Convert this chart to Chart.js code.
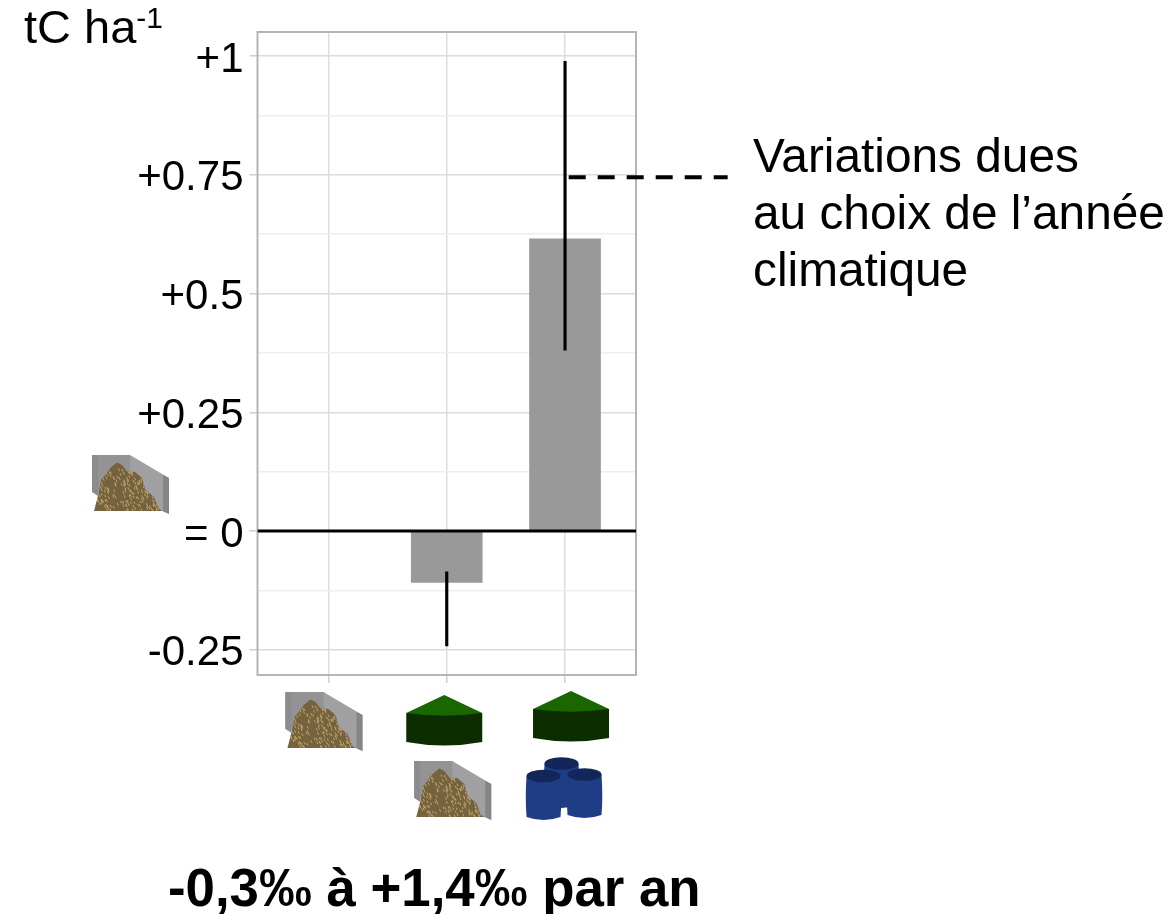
<!DOCTYPE html>
<html lang="fr">
<head>
<meta charset="utf-8">
<title>Variations tC ha-1</title>
<script src="https://cdn.jsdelivr.net/npm/chart.js@4"></script>
<style>
  html, body { margin: 0; padding: 0; background: #fff; }
  #wrap { position: relative; width: 1175px; height: 914px; overflow: hidden; font-family: "Liberation Sans", Arial, sans-serif; color: #000; }
  #chart { position: absolute; left: 0; top: 0; }
  .txt { position: absolute; white-space: nowrap; line-height: 1; }
  #unit { left: 24px; top: 3px; font-size: 47px; }
  #unit sup { font-size: 30px; line-height: 0; position: relative; top: -15.5px; vertical-align: baseline; }
  #note { left: 753px; top: 127px; font-size: 47.8px; line-height: 57px; white-space: pre; }
  #foot { left: 168px; top: 862px; font-size: 52.8px; font-weight: bold; }
</style>
</head>
<body>
<div id="wrap">
  <canvas id="chart" width="1175" height="914"></canvas>
  <div class="txt" id="unit">tC ha<sup>-1</sup></div>
  <div class="txt" id="note">Variations dues
au choix de l’année
climatique</div>
  <div class="txt" id="foot">-0,3‰ à +1,4‰ par an</div>
</div>
<script>
const positions = [1, 2, 3];
const barValues = [0, -0.108, 0.615];
const rangeLow = [null, -0.242, 0.381];
const rangeHigh = [null, -0.086, 0.989];
const yTicks = [-0.25, -0.125, 0, 0.125, 0.25, 0.375, 0.5, 0.625, 0.75, 0.875, 1];
const yLabels = ['-0.25', '', '= 0', '', '+0.25', '', '+0.5', '', '+0.75', '', '+1'];
const zeroLineX = [0.4, 3.6];
const zeroLineY = [0, 0];
const leaderX = [3.031, 4.375];
const leaderY = [0.7446, 0.7446];

function pairs(xs, ys) {
    return xs.map(function(x, i) { return { x: x, y: ys[i] }; });
}

function poly(ctx, pts, fill) {
    ctx.beginPath();
    pts.forEach(function(p, i) {
        if (i === 0) ctx.moveTo(p[0], p[1]); else ctx.lineTo(p[0], p[1]);
    });
    ctx.closePath();
    ctx.fillStyle = fill;
    ctx.fill();
}

// manure heap against its concrete wall
function drawHeap(ctx, x, y) {
    ctx.save();
    ctx.translate(x, y);
    poly(ctx, [[0,0],[38,0],[77,23],[77,59],[70,56],[0,37]], '#a0a0a3');
    poly(ctx, [[0,0],[38,0],[38,30],[0,37]], '#939395');
    poly(ctx, [[0,0],[6,0],[6,41],[0,37]], '#8c8c8e');
    poly(ctx, [[71,20],[77,23],[77,59],[71,56]], '#858587');
    const heap = [[2,56],[6.7,38],[9,25],[13.3,20],[18.3,13],[25,7.5],[30,10],[35,16.5],[43,17],[50,23],[53.5,35],[62,42],[66.5,53],[70,56]];
    poly(ctx, heap, '#75623f');
    ctx.save();
    ctx.clip();
    ctx.strokeStyle = '#c2a468';
    ctx.lineWidth = 1;
    for (let i = 0; i < 200; i++) {
        const a = (Math.sin(i * 12.9898) * 43758.5453) % 1;
        const b = (Math.sin(i * 78.233) * 12543.123) % 1;
        const px = 4 + Math.abs(a) * 62;
        const py = 12 + Math.abs(b) * 42;
        ctx.beginPath();
        ctx.moveTo(px, py);
        ctx.lineTo(px + 1, py + 2.5);
        ctx.stroke();
    }
    ctx.restore();
    ctx.restore();
}

// digester: green cone roof on a dark cylinder
function drawSilo(ctx, cx, y) {
    ctx.save();
    ctx.translate(cx, y);
    ctx.beginPath();
    ctx.moveTo(-38, 18);
    ctx.lineTo(-38, 47);
    ctx.quadraticCurveTo(0, 54, 38, 47);
    ctx.lineTo(38, 18);
    ctx.closePath();
    ctx.fillStyle = '#0b2d00';
    ctx.fill();
    ctx.beginPath();
    ctx.moveTo(0, 0);
    ctx.lineTo(38, 18);
    ctx.quadraticCurveTo(0, 23.4, -38, 18);
    ctx.closePath();
    ctx.fillStyle = '#1a6600';
    ctx.fill();
    ctx.restore();
}

function drawBarrel(ctx, cx, top, bottom) {
    ctx.beginPath();
    ctx.moveTo(cx - 17, top);
    ctx.quadraticCurveTo(cx - 18.5, (top + bottom) / 2, cx - 17, bottom - 3);
    ctx.quadraticCurveTo(cx, bottom + 3, cx + 17, bottom - 3);
    ctx.quadraticCurveTo(cx + 18.5, (top + bottom) / 2, cx + 17, top);
    ctx.closePath();
    ctx.fillStyle = '#1f3d87';
    ctx.fill();
    ctx.beginPath();
    ctx.ellipse(cx, top, 17, 6.3, 0, 0, Math.PI * 2);
    ctx.fillStyle = '#12265a';
    ctx.fill();
}

const decorPlugin = {
    id: 'decor',
    beforeDatasetsDraw(chart) {
        const a = chart.chartArea;
        const ctx = chart.ctx;
        ctx.save();
        ctx.strokeStyle = '#b5b5b5';
        ctx.lineWidth = 2;
        ctx.strokeRect(a.left, a.top, a.right - a.left, a.bottom - a.top);
        ctx.restore();
    },
    afterDraw(chart) {
        const ctx = chart.ctx;
        const xs = chart.scales.x;
        const ys = chart.scales.y;
        const y0 = ys.getPixelForValue(0);
        drawHeap(ctx, 92, y0 - 76);
        drawHeap(ctx, xs.getPixelForValue(1) - 43, 692);
        drawSilo(ctx, xs.getPixelForValue(2) - 2.5, 695);
        drawHeap(ctx, xs.getPixelForValue(2) - 32.5, 761);
        drawSilo(ctx, xs.getPixelForValue(3) + 6, 691);
        const bx = xs.getPixelForValue(3);
        drawBarrel(ctx, bx - 3.5, 763.5, 808);
        drawBarrel(ctx, bx - 21.5, 776, 820);
        drawBarrel(ctx, bx + 19.5, 774.5, 818);
    }
};

new Chart(document.getElementById('chart'), {
    data: {
        datasets: [
            {
                type: 'line',
                data: pairs(leaderX, leaderY),
                borderColor: '#000',
                borderWidth: 4,
                borderDash: [17, 12],
                pointRadius: 0,
                clip: false,
                order: 1
            },
            {
                type: 'line',
                data: pairs(zeroLineX, zeroLineY),
                borderColor: '#000',
                borderWidth: 3,
                pointRadius: 0,
                order: 2
            },
            {
                type: 'bar',
                data: positions.map(function(x, i) { return { x: x, y: [rangeLow[i], rangeHigh[i]] }; }),
                backgroundColor: '#000',
                barThickness: 2.5,
                grouped: false,
                order: 3
            },
            {
                type: 'bar',
                data: pairs(positions, barValues),
                backgroundColor: '#999999',
                barThickness: 71,
                grouped: false,
                order: 4
            }
        ]
    },
    options: {
        responsive: false,
        animation: false,
        events: [],
        layout: { padding: { left: 0, right: 539, top: 32, bottom: 0 } },
        plugins: { legend: { display: false }, tooltip: { enabled: false }, title: { display: false } },
        scales: {
            x: {
                type: 'linear',
                min: 0.4,
                max: 3.6,
                offset: false,
                afterBuildTicks(scale) {
                    scale.ticks = positions.map(function(v) { return { value: v }; });
                },
                afterFit(scale) { scale.height = 239; },
                ticks: { display: false },
                grid: { offset: false, color: '#dedede', tickColor: '#cfcfcf', tickLength: 8, lineWidth: 1.5 },
                border: { display: false }
            },
            y: {
                type: 'linear',
                min: -0.303,
                max: 1.0505,
                afterBuildTicks(scale) {
                    scale.ticks = yTicks.map(function(v) { return { value: v }; });
                },
                afterFit(scale) { scale.width = 257.5; },
                ticks: {
                    padding: 6,
                    labelOffset: 4,
                    color: '#000',
                    font: { family: '"Liberation Sans", Arial, sans-serif', size: 42 },
                    autoSkip: false,
                    maxRotation: 0,
                    callback: function(value) { return yLabels[yTicks.indexOf(value)]; }
                },
                grid: {
                    tickLength: 8,
                    color: function(c) { return yLabels[yTicks.indexOf(c.tick.value)] ? '#dcdcdc' : '#eeeeee'; },
                    tickColor: function(c) { return yLabels[yTicks.indexOf(c.tick.value)] ? '#cfcfcf' : 'rgba(0,0,0,0)'; },
                    lineWidth: 1.5
                },
                border: { display: false }
            }
        }
    },
    plugins: [decorPlugin]
});
</script>
</body>
</html>
